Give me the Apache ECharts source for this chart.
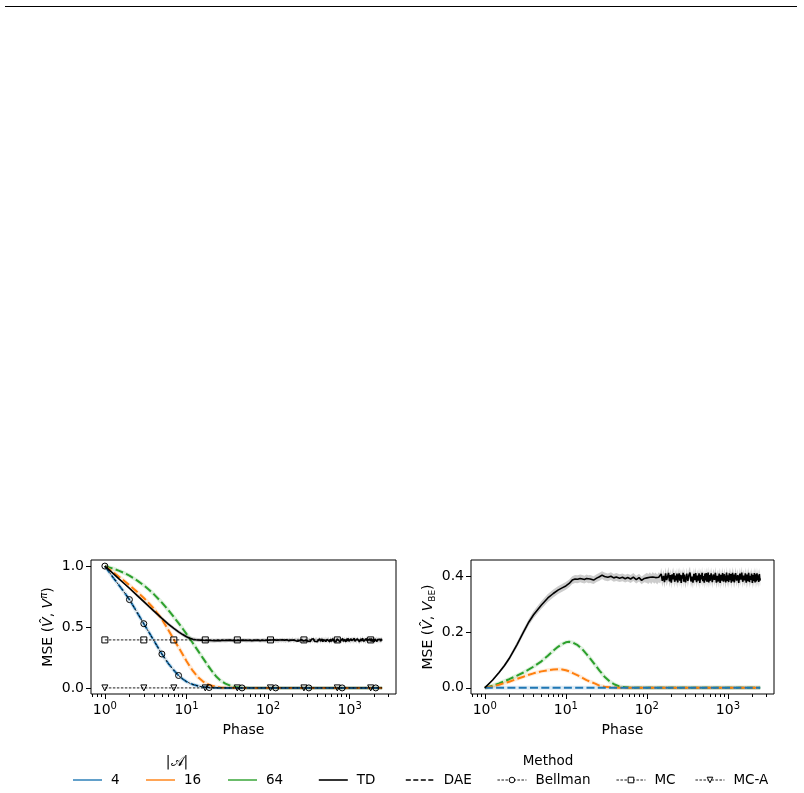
<!DOCTYPE html>
<html>
<head>
<meta charset="utf-8">
<title>MSE per phase</title>
<script src="https://cdn.jsdelivr.net/npm/echarts@6/dist/echarts.min.js"></script>
</head>
<body style="margin:0;background:#fff">
<div id="chart" style="width:804px;height:793px"></div>
<script type="text/javascript">
// phases at which the TD runs are plotted
var tdPhase = [
  1, 1.25, 1.5, 1.75, 2, 2.5, 3, 3.5, 4, 5,
  6, 7, 8, 9, 10, 11, 12, 13, 14, 15,
  16, 17, 18, 19, 20, 22, 24, 26, 28, 30,
  33, 36, 39, 42, 46, 50, 54, 58, 63, 68,
  74, 80, 86, 93,
  100, 104, 109, 113, 118, 123, 128, 134, 140, 146,
  150, 155, 160, 165, 170, 175, 180, 185, 190, 195,
  200, 205, 210, 215, 220, 225, 230, 235, 240, 245,
  250, 255, 260, 265, 270, 275, 280, 285, 290, 295,
  300, 310, 320, 330, 340, 350, 360, 370, 380, 390,
  400, 410, 420, 430, 440, 450, 460, 470, 480, 490,
  500, 510, 520, 530, 540, 550, 560, 570, 580, 590,
  600, 620, 640, 660, 680, 700, 720, 740, 760, 780,
  800, 820, 840, 860, 880, 900, 920, 940, 960, 980,
  1000, 1020, 1040, 1060, 1080, 1100, 1120, 1140, 1160, 1180,
  1200, 1240, 1280, 1320, 1360, 1400, 1440, 1480, 1520, 1560,
  1600, 1640, 1680, 1720, 1760, 1800, 1840, 1880, 1920, 1960,
  2000, 2040, 2080, 2120, 2160, 2200, 2240, 2280, 2320, 2360,
  2400, 2440, 2480, 2500
];
// TD: MSE(V^, V^pi)
var tdPi = [
  1.0, 0.942, 0.893, 0.853, 0.818, 0.757, 0.708, 0.666, 0.63, 0.571,
  0.524, 0.489, 0.46, 0.438, 0.42, 0.408, 0.4, 0.396, 0.393, 0.392,
  0.391, 0.389, 0.39, 0.388, 0.389, 0.387, 0.39, 0.388, 0.391, 0.389,
  0.392, 0.39, 0.388, 0.391, 0.389, 0.392, 0.389, 0.391, 0.388, 0.39,
  0.392, 0.388, 0.391, 0.389,
  0.392, 0.388, 0.393, 0.389, 0.394, 0.388, 0.392, 0.387, 0.393, 0.39,
  0.394, 0.389, 0.392, 0.386, 0.395, 0.39, 0.388, 0.396, 0.387, 0.393,
  0.398, 0.385, 0.392, 0.389, 0.399, 0.384, 0.394, 0.397, 0.386, 0.391,
  0.383, 0.397, 0.388, 0.4, 0.385, 0.393, 0.382, 0.398, 0.39, 0.386,
  0.401, 0.384, 0.395, 0.381, 0.399, 0.387, 0.403, 0.383, 0.392, 0.398,
  0.38, 0.396, 0.386, 0.404, 0.382, 0.394, 0.401, 0.379, 0.397, 0.385,
  0.405, 0.381, 0.392, 0.399, 0.383, 0.403, 0.387, 0.378, 0.4, 0.39,
  0.382, 0.406, 0.385, 0.397, 0.38, 0.402, 0.389, 0.404, 0.379, 0.395,
  0.384, 0.405, 0.381, 0.398, 0.391, 0.378, 0.403, 0.386, 0.407, 0.382,
  0.396, 0.38, 0.404, 0.387, 0.401, 0.379, 0.394, 0.406, 0.383, 0.399,
  0.381, 0.404, 0.388, 0.378, 0.402, 0.385, 0.407, 0.382, 0.397, 0.38,
  0.405, 0.386, 0.399, 0.379, 0.403, 0.384, 0.406, 0.381, 0.395, 0.402,
  0.378, 0.401, 0.387, 0.405, 0.38, 0.398, 0.383, 0.404, 0.385, 0.4,
  0.382, 0.403, 0.388, 0.394
];
// TD: MSE(V^, V_BE)
var tdBe = [
  0, 0.028, 0.055, 0.08, 0.105, 0.155, 0.2, 0.236, 0.262, 0.297,
  0.322, 0.338, 0.35, 0.358, 0.365, 0.374, 0.386, 0.39, 0.389, 0.392,
  0.39, 0.388, 0.392, 0.389, 0.39, 0.386, 0.393, 0.398, 0.404, 0.399,
  0.396, 0.4, 0.394, 0.397, 0.393, 0.396, 0.391, 0.395, 0.39, 0.397,
  0.388, 0.395, 0.385, 0.392,
  0.394, 0.39, 0.396, 0.389, 0.397, 0.391, 0.395, 0.388, 0.396, 0.392,
  0.408, 0.383, 0.401, 0.379, 0.41, 0.386, 0.398, 0.412, 0.381, 0.404,
  0.377, 0.407, 0.389, 0.411, 0.38, 0.402, 0.385, 0.409, 0.378, 0.399,
  0.41, 0.384, 0.405, 0.376, 0.403, 0.391, 0.412, 0.38, 0.406, 0.387,
  0.378, 0.409, 0.383, 0.404, 0.413, 0.381, 0.398, 0.377, 0.408, 0.386,
  0.411, 0.379, 0.402, 0.384, 0.41, 0.376, 0.405, 0.389, 0.412, 0.382,
  0.4, 0.377, 0.409, 0.385, 0.411, 0.38, 0.396, 0.413, 0.378, 0.404,
  0.383, 0.41, 0.379, 0.406, 0.387, 0.412, 0.377, 0.401, 0.381, 0.409,
  0.376, 0.405, 0.384, 0.411, 0.38, 0.407, 0.39, 0.378, 0.413, 0.383,
  0.403, 0.379, 0.41, 0.386, 0.408, 0.377, 0.399, 0.412, 0.381, 0.406,
  0.378, 0.411, 0.384, 0.404, 0.376, 0.409, 0.388, 0.413, 0.38, 0.402,
  0.385, 0.41, 0.377, 0.406, 0.382, 0.412, 0.379, 0.401, 0.387, 0.409,
  0.376, 0.404, 0.383, 0.411, 0.378, 0.407, 0.381, 0.41, 0.386, 0.403,
  0.379, 0.408, 0.384, 0.392
];
// half-width of the grey TD band, constant from each listed phase on
var piErrFrom = [1, 1.25, 1.5, 1.75, 2, 2.5, 3, 3.5, 4, 5, 100, 300];
var piErrVal = [0.002, 0.004, 0.006, 0.008, 0.01, 0.012, 0.013, 0.014, 0.015, 0.016, 0.017, 0.019];
var beErrFrom = [1, 1.25, 1.5, 1.75, 2, 2.5, 3, 3.5, 4, 5, 100, 150];
var beErrVal = [0.002, 0.004, 0.005, 0.007, 0.008, 0.01, 0.011, 0.012, 0.013, 0.014, 0.018, 0.022];

// DAE, one curve per action-set size
var daePhase = [1, 1.25, 1.5, 1.75, 2, 2.5, 3, 3.5, 4, 5, 6, 7, 8, 9, 10, 11, 12, 14, 16, 18,
  20, 23, 26, 30, 35, 40, 45, 50, 60, 70, 100, 2500];
var daePi4 = [1.0, 0.91, 0.84, 0.78, 0.725, 0.616, 0.527, 0.452, 0.387, 0.278,
  0.2, 0.145, 0.102, 0.073, 0.052, 0.038, 0.028, 0.015, 0.008, 0.005,
  0.003, 0.001, 0, 0, 0, 0, 0, 0, 0, 0, 0, 0];
var daePi16 = [1.0, 0.952, 0.911, 0.875, 0.843, 0.787, 0.738, 0.692, 0.649, 0.564,
  0.475, 0.398, 0.333, 0.274, 0.221, 0.177, 0.139, 0.085, 0.052, 0.032,
  0.019, 0.009, 0.004, 0.002, 0.001, 0, 0, 0, 0, 0, 0, 0];
var daePi64 = [1.0, 0.981, 0.961, 0.941, 0.922, 0.881, 0.842, 0.804, 0.768, 0.7,
  0.638, 0.582, 0.532, 0.486, 0.443, 0.404, 0.367, 0.3, 0.242, 0.192,
  0.148, 0.096, 0.061, 0.035, 0.017, 0.007, 0.003, 0.001, 0, 0, 0, 0];
var daeBe4 = [0, 0, 0, 0, 0, 0, 0, 0, 0, 0, 0, 0, 0, 0, 0, 0, 0, 0, 0, 0,
  0, 0, 0, 0, 0, 0, 0, 0, 0, 0, 0, 0];
var daeBe16 = [0, 0.005, 0.011, 0.017, 0.022, 0.032, 0.04, 0.047, 0.052, 0.059,
  0.063, 0.066, 0.067, 0.066, 0.063, 0.059, 0.054, 0.045, 0.036, 0.028,
  0.022, 0.015, 0.008, 0.004, 0.002, 0.001, 0, 0, 0, 0, 0, 0];
var daeBe64 = [0, 0.008, 0.016, 0.024, 0.031, 0.044, 0.055, 0.066, 0.076, 0.095,
  0.115, 0.133, 0.147, 0.157, 0.163, 0.165, 0.163, 0.153, 0.138, 0.121,
  0.105, 0.082, 0.062, 0.04, 0.022, 0.012, 0.006, 0.003, 0.001, 0, 0, 0];

// baselines (left panel only)
var bellmanPhase = [1, 1.25, 1.5, 1.75, 2, 2.5, 3, 3.5, 4, 5, 6, 7, 8, 9, 10, 11, 12, 14, 16, 19,
  23, 30, 48, 124, 316, 810, 2090, 2500];
var bellmanPi = [1.0, 0.91, 0.84, 0.78, 0.725, 0.616, 0.527, 0.452, 0.387, 0.278,
  0.2, 0.145, 0.102, 0.073, 0.052, 0.038, 0.028, 0.015, 0.008, 0.003,
  0.001, 0, 0, 0, 0, 0, 0, 0];
var bellmanMarks = [1, 2, 3, 5, 8, 19, 48, 124, 316, 810, 2090];
var mcPhase = [1, 3, 7, 17, 42, 107, 275, 706, 1810, 2500];
var mcPi = [0.394, 0.394, 0.394, 0.394, 0.394, 0.394, 0.394, 0.394, 0.394, 0.394];
var mcaPi = [0, 0, 0, 0, 0, 0, 0, 0, 0, 0];
var mcMarks = [1, 3, 7, 17, 42, 107, 275, 706, 1810];

// ticks
var xMajor = [1, 10, 100, 1000];
var xMinor = [0.7, 0.8, 0.9, 2, 3, 4, 5, 6, 7, 8, 9, 20, 30, 40, 50, 60, 70, 80, 90,
  200, 300, 400, 500, 600, 700, 800, 900, 2000, 3000];
var yTicksPi = [0, 0.5, 1.0];
var yTicksBe = [0, 0.2, 0.4];

var FONT = 'DejaVu Sans';
var C4 = '#1f77b4', C16 = '#ff7f0e', C64 = '#2ca02c';
var X_MIN = -0.17, X_MAX = 3.568;

function toXY(xs, ys) {
  return xs.map(function (x, i) { return [Math.log10(x), ys[i]]; });
}
// only the listed phases get a marker
function marked(xs, ys, marks) {
  return xs.map(function (x, i) {
    var item = { value: [Math.log10(x), ys[i]] };
    if (marks.indexOf(x) < 0) item.symbol = 'none';
    return item;
  });
}
function stepLookup(from, val, x) {
  var e = val[0];
  for (var k = 0; k < from.length; k++) if (x >= from[k]) e = val[k];
  return e;
}

var tickLine = { color: '#000', width: 1 };

function xAxes(gi) {
  return [{
    type: 'value', gridIndex: gi, min: X_MIN, max: X_MAX, position: 'bottom',
    name: 'Phase', nameLocation: 'middle', nameGap: 29,
    nameTextStyle: { fontFamily: FONT, fontSize: 14, color: '#000' },
    axisLine: { show: false, onZero: false }, splitLine: { show: false },
    axisTick: { customValues: xMajor.map(Math.log10), length: 5, lineStyle: tickLine },
    axisLabel: {
      customValues: xMajor.map(Math.log10), margin: 7,
      formatter: function (v) { return '{b|10}{s|' + Math.round(v) + '}'; },
      rich: {
        b: { fontFamily: FONT, fontSize: 14, color: '#000', lineHeight: 18 },
        s: { fontFamily: FONT, fontSize: 10, color: '#000', verticalAlign: 'top' }
      }
    }
  }, {
    type: 'value', gridIndex: gi, min: X_MIN, max: X_MAX, position: 'bottom',
    axisLine: { show: false, onZero: false }, splitLine: { show: false }, axisLabel: { show: false },
    axisTick: { customValues: xMinor.map(Math.log10), length: 3, lineStyle: tickLine }
  }];
}

function yAxis(gi, min, max, ticks, name) {
  return {
    type: 'value', gridIndex: gi, min: min, max: max, position: 'left',
    axisLine: { show: false, onZero: false }, splitLine: { show: false },
    axisTick: { customValues: ticks, length: 5, lineStyle: tickLine },
    axisLabel: {
      customValues: ticks, margin: 7, fontFamily: FONT, fontSize: 14, color: '#000',
      formatter: function (v) { return v.toFixed(1); }
    },
    name: name, nameLocation: 'middle', nameRotate: 90, nameGap: 34,
    nameTextStyle: {
      fontFamily: FONT, fontSize: 14, color: '#000',
      rich: {
        n: { fontFamily: FONT, fontSize: 14, color: '#000', lineHeight: 18 },
        i: { fontFamily: FONT, fontSize: 14, fontStyle: 'italic', color: '#000', lineHeight: 18 },
        sup: { fontFamily: FONT, fontSize: 10, fontStyle: 'italic', color: '#000', verticalAlign: 'top' },
        sub: { fontFamily: FONT, fontSize: 9, color: '#000', verticalAlign: 'bottom' }
      }
    }
  };
}

// grey band around a TD curve, drawn as one polygon through the axes
function band(gi, xs, ys, errFrom, errVal) {
  var pts = xs.map(function (x, i) {
    var e = stepLookup(errFrom, errVal, x);
    return [Math.log10(x), ys[i] - e, ys[i] + e];
  });
  return {
    type: 'custom', name: 'band', xAxisIndex: gi * 2, yAxisIndex: gi, silent: true, z: 1,
    data: pts, encode: { x: 0, y: [1, 2] },
    renderItem: function (params, api) {
      if (params.dataIndex !== 0) return null;
      var upper = pts.map(function (p) { return api.coord([p[0], p[2]]); });
      var lower = pts.map(function (p) { return api.coord([p[0], p[1]]); }).reverse();
      return { type: 'polygon', shape: { points: upper.concat(lower) }, style: { fill: 'rgba(0,0,0,0.2)' } };
    }
  };
}

function dae(gi, ys, color) {
  return [{
    type: 'line', name: 'halo', xAxisIndex: gi * 2, yAxisIndex: gi, data: toXY(daePhase, ys),
    symbol: 'none', silent: true, z: 2, lineStyle: { color: color, width: 4, opacity: 0.15 }
  }, {
    type: 'line', name: 'DAE', xAxisIndex: gi * 2, yAxisIndex: gi, data: toXY(daePhase, ys),
    symbol: 'none', z: 3, lineStyle: { color: color, width: 2, type: [8, 3.3] }
  }];
}

function baseline(name, xs, ys, marks, symbol, rotate) {
  return {
    type: 'line', name: name, xAxisIndex: 0, yAxisIndex: 0, data: marked(xs, ys, marks),
    symbol: symbol, symbolSize: 6, symbolRotate: rotate || 0, z: 4,
    lineStyle: { color: '#000', width: 0.9, type: [2.5, 1.5] },
    itemStyle: { color: 'rgba(0,0,0,0)', borderColor: '#000', borderWidth: 1 }
  };
}

function td(gi, ys) {
  return {
    type: 'line', name: 'TD', xAxisIndex: gi * 2, yAxisIndex: gi, data: toXY(tdPhase, ys),
    symbol: 'none', z: 5, lineStyle: { color: '#000', width: 1.6 }
  };
}

function dummy(name) {
  return { type: 'line', name: name, xAxisIndex: 0, yAxisIndex: 0, data: [], symbol: 'none' };
}

var series = [].concat(
  [band(0, tdPhase, tdPi, piErrFrom, piErrVal), band(1, tdPhase, tdBe, beErrFrom, beErrVal)],
  dae(0, daePi64, C64), dae(0, daePi16, C16), dae(0, daePi4, C4),
  dae(1, daeBe64, C64), dae(1, daeBe16, C16), dae(1, daeBe4, C4),
  [
    baseline('Bellman', bellmanPhase, bellmanPi, bellmanMarks, 'circle'),
    baseline('MC', mcPhase, mcPi, mcMarks, 'rect'),
    baseline('MC-A', mcPhase, mcaPi, mcMarks, 'triangle', 180),
    td(0, tdPi), td(1, tdBe),
    dummy('4'), dummy('16'), dummy('64')
  ]
);

var noMark = { opacity: 0 };
var openMark = { color: '#fff', borderColor: '#000', borderWidth: 1, opacity: 1 };
var dotted = { color: '#000', width: 0.9, type: [2.5, 1.5] };
var legendItems = [
  { name: '4', left: 72, itemStyle: noMark, lineStyle: { color: C4, width: 2, type: 'solid', opacity: 0.7 } },
  { name: '16', left: 145, itemStyle: noMark, lineStyle: { color: C16, width: 2, type: 'solid', opacity: 0.7 } },
  { name: '64', left: 227, itemStyle: noMark, lineStyle: { color: C64, width: 2, type: 'solid', opacity: 0.7 } },
  { name: 'TD', left: 318, itemStyle: noMark, lineStyle: { color: '#000', width: 1.6, type: 'solid' } },
  { name: 'DAE', left: 405, itemStyle: noMark, lineStyle: { color: '#000', width: 1.6, type: [5, 2.5] } },
  { name: 'Bellman', left: 497, itemStyle: openMark, lineStyle: dotted },
  { name: 'MC', left: 616, itemStyle: openMark, lineStyle: dotted },
  { name: 'MC-A', left: 695, itemStyle: openMark, lineStyle: dotted }
];

var legends = legendItems.map(function (it) {
  return {
    data: [{ name: it.name, itemStyle: it.itemStyle, lineStyle: it.lineStyle }],
    left: it.left, top: 773, padding: 0, itemWidth: 29, itemHeight: 7,
    selectedMode: false,
    textStyle: { fontFamily: FONT, fontSize: 13.5, color: '#000', padding: [0, 0, 0, 4] }
  };
});

var chart = echarts.init(document.getElementById('chart'));
chart.setOption({
  animation: false,
  backgroundColor: '#fff',
  grid: [
    { left: 91, top: 560, width: 305, height: 134, show: true, borderColor: '#000', borderWidth: 1 },
    { left: 471, top: 560, width: 303, height: 134, show: true, borderColor: '#000', borderWidth: 1 }
  ],
  xAxis: xAxes(0).concat(xAxes(1)),
  yAxis: [
    yAxis(0, -0.05, 1.05, yTicksPi, '{n|MSE (}{i|V\u0302}{n|, }{i|V}{sup|\u03c0}{n|)}'),
    yAxis(1, -0.022, 0.458, yTicksBe, '{n|MSE (}{i|V\u0302}{n|, }{i|V}{sub|BE}{n|)}')
  ],
  legend: legends,
  graphic: [
    { type: 'line', shape: { x1: 5, y1: 6.5, x2: 797, y2: 6.5 }, style: { stroke: '#000', lineWidth: 1 } },
    { type: 'text', x: 177, y: 762, style: { text: '|\ud835\udc9c|', fontFamily: FONT, fontSize: 14, fill: '#000', align: 'center', verticalAlign: 'middle' } },
    { type: 'text', x: 548, y: 761, style: { text: 'Method', fontFamily: FONT, fontSize: 13.5, fill: '#000', align: 'center', verticalAlign: 'middle' } }
  ],
  series: series
});
</script>
</body>
</html>
